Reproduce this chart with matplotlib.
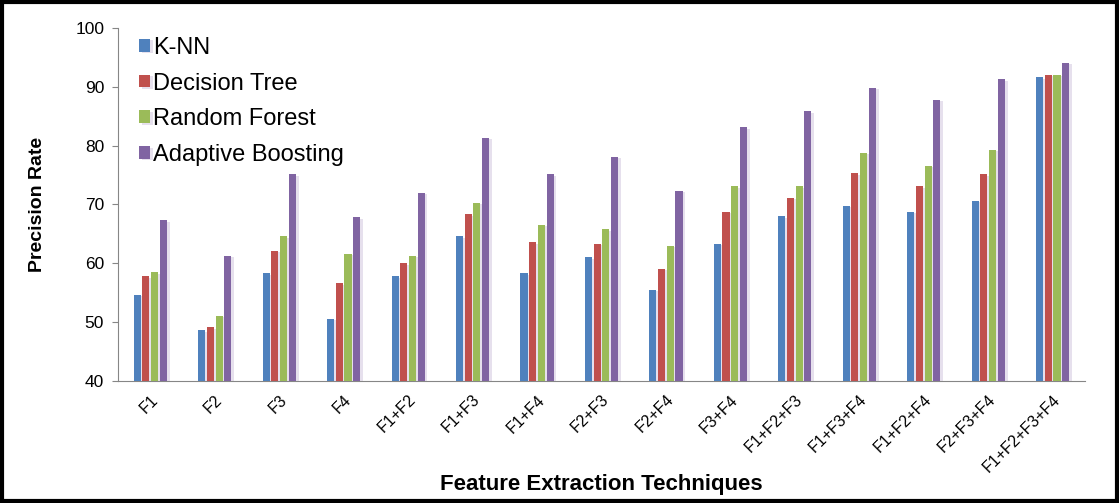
import matplotlib.pyplot as plt
import matplotlib.patches as patches
import matplotlib.patheffects as pe
import numpy as np

plt.rcParams['font.family'] = ['Liberation Sans', 'DejaVu Sans']

# 数据
categories = ['F1', 'F2', 'F3', 'F4', 'F1+F2', 'F1+F3', 'F1+F4', 'F2+F3', 'F2+F4',
              'F3+F4', 'F1+F2+F3', 'F1+F3+F4', 'F1+F2+F4', 'F2+F3+F4', 'F1+F2+F3+F4']
knn = [54.6, 48.6, 58.3, 50.6, 57.8, 64.6, 58.3, 61.0, 55.5, 63.3, 68.0, 69.8, 68.8, 70.6, 91.6]
decision_tree = [57.8, 49.1, 62.1, 56.6, 60.0, 68.3, 63.6, 63.3, 59.1, 68.8, 71.1, 75.3, 73.1, 75.1, 92.0]
random_forest = [58.5, 51.1, 64.6, 61.6, 61.3, 70.3, 66.5, 65.8, 63.0, 73.1, 73.1, 78.8, 76.6, 79.3, 92.0]
adaboost = [67.3, 61.3, 75.1, 67.8, 72.0, 81.3, 75.1, 78.1, 72.3, 83.1, 85.8, 89.8, 87.8, 91.3, 94.1]

series = [knn, decision_tree, random_forest, adaboost]
names = ['K-NN', 'Decision Tree', 'Random Forest', 'Adaptive Boosting']
colors = ['#4F81BD', '#C0504D', '#9BBB59', '#8064A2']

fig = plt.figure(figsize=(11.19, 5.03), dpi=100)
ax = fig.add_axes([0.1055, 0.2425, 0.864, 0.702])

x = np.arange(len(categories))
step = 0.135
width = 0.11
shadow = [pe.SimplePatchShadow(offset=(2, -1), shadow_rgbFace='#b9a8cc', alpha=0.35), pe.Normal()]
for i, (vals, name, c) in enumerate(zip(series, names, colors)):
    bars = ax.bar(x + (i - 1.5) * step, np.array(vals) - 40, width, bottom=40,
                  color=c, label=name, zorder=3)
    for b in bars:
        b.set_path_effects(shadow)

ax.set_xlim(-0.5, len(categories) - 0.5)
ax.set_ylim(40, 100)
ax.set_yticks(np.arange(40, 101, 10))
ax.tick_params(axis='y', labelsize=12.5, length=4, color='#868686', pad=6)
ax.set_xticks(x)
ax.set_xticklabels(categories, rotation=45, ha='right', rotation_mode='anchor',
                   fontsize=11.5)
ax.tick_params(axis='x', length=0, pad=8)

for s in ['top', 'right']:
    ax.spines[s].set_visible(False)
for s in ['left', 'bottom']:
    ax.spines[s].set_color('#868686')

ax.set_ylabel('Precision Rate', fontsize=14, fontweight='bold')
ax.yaxis.set_label_coords(-0.075, 0.5)
ax.set_xlabel('Feature Extraction Techniques', fontsize=16, fontweight='bold')
ax.xaxis.set_label_coords(0.5, -0.294)
ax.xaxis.label.set_va('center')

leg = ax.legend(loc='upper left', bbox_to_anchor=(0.0, 1.035), frameon=False,
                fontsize=17, handlelength=0.45, handleheight=0.45, handletextpad=0.15,
                labelspacing=0.58)

# 外边框
fig.patches.append(patches.Rectangle((0.002, 0.004), 0.996, 0.992, transform=fig.transFigure,
                                     fill=False, edgecolor='black', linewidth=3))

plt.savefig('out.png', dpi=100, facecolor='white')
